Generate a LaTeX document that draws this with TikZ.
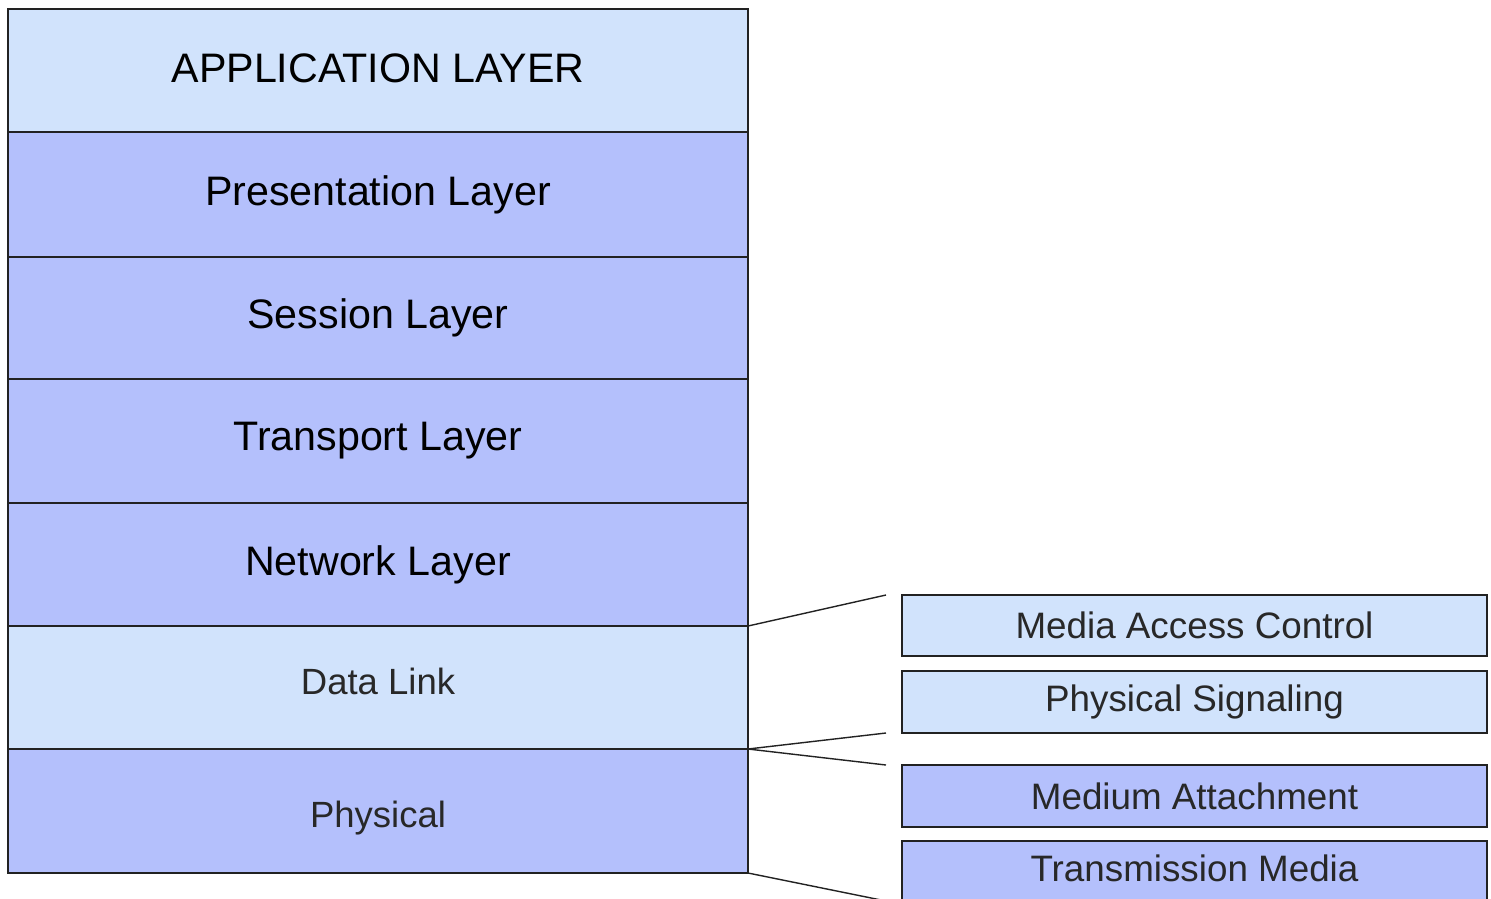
\documentclass[tikz,border=0pt]{standalone}
\usepackage{fontspec}
\setmainfont{Liberation Sans}
\definecolor{lightlay}{RGB}{209,227,252}
\definecolor{darklay}{RGB}{180,192,252}
\definecolor{edge}{RGB}{34,34,34}
\definecolor{txtgray}{RGB}{40,40,40}
\newcommand{\shiftlbl}[2]{\raisebox{#1}[\height][\depth]{#2}}
\tikzset{
  stackbox/.style={draw=edge, line width=1.6pt, anchor=north west, inner sep=0pt, outer sep=0pt,
    minimum width=740pt, font=\fontsize{41.2}{48}\selectfont, text=black},
  subbox/.style={draw=edge, line width=1.6pt, anchor=north west, inner sep=0pt, outer sep=0pt,
    minimum width=585pt, font=\fontsize{36.8}{44}\selectfont, text=txtgray},
  link/.style={draw=edge, line width=1.4pt}
}
\begin{document}
\begin{tikzpicture}[x=1pt,y=-1pt]
\useasboundingbox (0,0) rectangle (1491,898);
\clip (0,0) rectangle (1491,898);
\node[stackbox, fill=lightlay, minimum height=123pt] (app) at (8,9) {\shiftlbl{2pt}{APPLICATION LAYER}};
\node[stackbox, fill=darklay, minimum height=125pt] (pres) at (8,132) {Presentation Layer};
\node[stackbox, fill=darklay, minimum height=122pt] (sess) at (8,257) {Session Layer};
\node[stackbox, fill=darklay, minimum height=124pt] (trans) at (8,379) {Transport Layer};
\node[stackbox, fill=darklay, minimum height=123pt] (net) at (8,503) {Network Layer};
\node[stackbox, fill=lightlay, minimum height=123pt, font=\fontsize{36.5}{44}\selectfont, text=txtgray] (dl) at (8,626) {\shiftlbl{6pt}{Data Link}};
\node[stackbox, fill=darklay, minimum height=124pt, font=\fontsize{36.5}{44}\selectfont, text=txtgray] (phy) at (8,749) {\shiftlbl{-7pt}{Physical}};

\node[subbox, fill=lightlay, minimum height=61pt] (mac) at (902,595) {Media Access Control};
\node[subbox, fill=lightlay, minimum height=62pt] (ps) at (902,671) {Physical Signaling};
\node[subbox, fill=darklay, minimum height=62pt] (ma) at (902,765) {Medium Attachment};
\node[subbox, fill=darklay, minimum height=62pt, text depth=0pt] (tm) at (902,841) {\raisebox{7pt}{Transmission Media}};

\coordinate (c1) at (886,595);
\coordinate (c2) at (886,733);
\coordinate (c3) at (886,765);
\coordinate (c4) at (886,901);
\draw[link] (dl.north east) -- (c1);
\draw[link] (phy.north east) -- (c2);
\draw[link] (phy.north east) -- (c3);
\draw[link] (phy.south east) -- (c4);
\end{tikzpicture}
\end{document}
